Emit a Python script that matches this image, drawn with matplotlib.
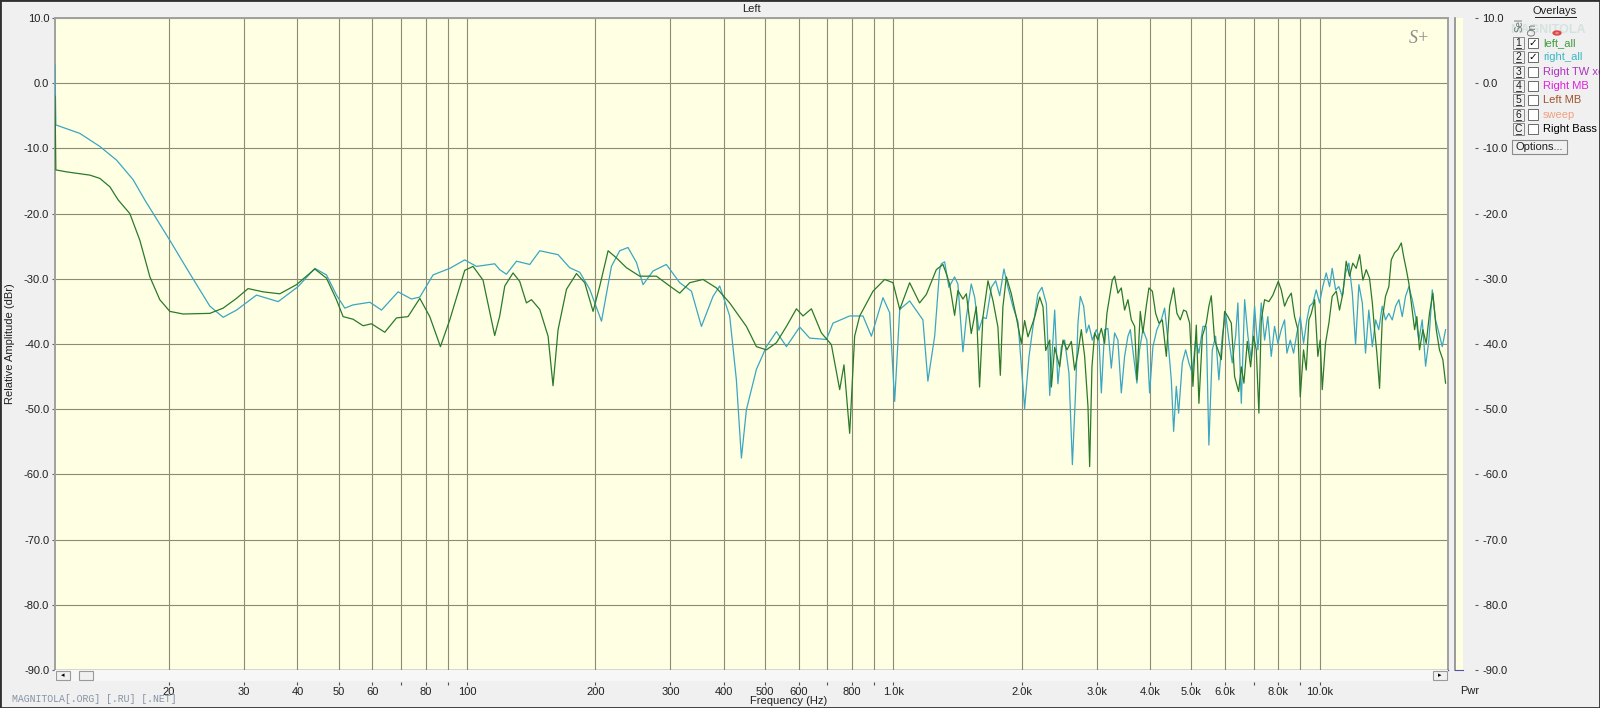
import matplotlib
matplotlib.use('Agg')
import matplotlib.pyplot as plt
from matplotlib.patches import Rectangle, Circle
from matplotlib.lines import Line2D
from matplotlib.ticker import NullLocator, NullFormatter

plt.rcParams['font.family'] = ['Liberation Sans', 'DejaVu Sans']
plt.rcParams['axes.unicode_minus'] = False

# ---------------- data ----------------
left_all_freq = [10.8, 10.85, 11.5, 13.04, 13.76, 14.53, 15.19, 16.18, 17.08, 18.03, 19.02, 20.08, 21.58,
                 24.93, 26.78, 28.79, 30.65, 33.23, 36.37, 39.8, 43.94, 46.8, 49.39, 51.19, 54.03, 57.03,
                 59.68, 64.12, 68.3, 72.7, 77.48, 81.76, 86.6, 91.08, 98.76, 103.3, 109.0, 116.1, 119.3,
                 122.6, 128.2, 132.9, 137.8, 141.6, 148.1, 154.9, 159.1, 163.5, 171.1, 180.6, 188.8, 197.5,
                 204.8, 214.2, 224.1, 236.5, 254.1, 278.1, 298.7, 315.4, 332.9, 357.7, 384.5, 413.1, 452.1,
                 477.2, 503.8, 531.7, 561.3, 592.4, 613.8, 642.3, 677.9, 715.5, 748.3, 765.8, 789.8, 811.3,
                 833.7, 895.9, 954.1, 998, 1035, 1092, 1152, 1195, 1261, 1307, 1331, 1355, 1392, 1417, 1456,
                 1483, 1523, 1565, 1593, 1622, 1667, 1712, 1759, 1782, 1807, 1841, 1891, 1943, 1996, 2032,
                 2069, 2107, 2145, 2204, 2244, 2277, 2327, 2348, 2390, 2455, 2500, 2554, 2615, 2662, 2710,
                 2760, 2810, 2861, 2887, 2923, 2966, 3019, 3075, 3130, 3169, 3216, 3263, 3304, 3363, 3425,
                 3487, 3550, 3616, 3681, 3727, 3795, 3849, 3920, 3976, 4050, 4123, 4197, 4275, 4368, 4447,
                 4544, 4626, 4710, 4795, 4866, 4954, 5043, 5136, 5209, 5306, 5420, 5497, 5569, 5669, 5771,
                 5878, 5984, 6092, 6205, 6316, 6455, 6549, 6642, 6765, 6887, 6998, 7101, 7201, 7295, 7427,
                 7601, 7767, 7910, 7996, 8126, 8273, 8422, 8578, 8732, 8890, 9004, 9166, 9301, 9433, 9559,
                 9732, 9902, 10030, 10140, 10320, 10510, 10700, 10940, 11130, 11340, 11540, 11750, 11960,
                 12180, 12410, 12630, 12860, 13090, 13290, 13450, 13620, 13820, 14020, 14270, 14530, 14720,
                 14990, 15260, 15540, 15740, 15970, 16190, 16400, 16700, 16900, 17150, 17460, 17780, 18100,
                 18430, 18770, 19100, 19450, 19740]
left_all_db = [-2.0, -13.3, -13.6, -14.1, -14.6, -15.9, -17.9, -20.0, -24.1, -29.7, -33.2, -35.0, -35.4,
               -35.3, -34.5, -33.0, -31.5, -32.0, -32.3, -30.9, -28.5, -29.9, -33.2, -35.8, -36.2, -37.2,
               -36.9, -38.2, -36.0, -35.8, -33.0, -35.8, -40.4, -36.3, -28.7, -28.1, -30.2, -38.7, -35.7,
               -31.1, -29.1, -30.4, -33.7, -33.2, -34.7, -38.8, -46.4, -37.8, -31.6, -29.2, -30.6, -35.0,
               -31.1, -25.7, -26.8, -28.3, -29.6, -29.6, -31.1, -32.2, -30.6, -30.1, -31.4, -33.7, -37.3,
               -40.4, -40.9, -39.8, -37.3, -34.6, -35.7, -34.6, -38.3, -40.1, -47.0, -43.2, -53.7, -38.8,
               -35.7, -31.9, -30.1, -30.6, -34.7, -30.6, -33.7, -32.4, -28.6, -27.8, -29.2, -30.8, -35.6, -31.8, -33.1,
               -32.3, -38.4, -34.3, -46.6, -35.9, -30.3, -33.3, -37.4, -44.8, -34.3, -29.7, -32.3, -35.9, -39.9, -36.4,
               -38.9, -37.4, -35.9, -32.8, -34.3, -41.0, -39.4, -46.6, -40.5, -43.5, -39.4, -40.9, -39.6, -44.0, -41.4,
               -37.8, -41.9, -49.6, -58.8, -43.5, -38.3, -39.4, -37.6, -39.9, -35.3, -32.7, -30.2, -29.6, -32.2, -31.4,
               -34.8, -33.2, -36.3, -37.3, -45.5, -35.0, -38.3, -34.2, -31.4, -31.9, -35.3, -36.8, -36.3, -41.9, -34.2,
               -31.4, -35.3, -36.3, -34.8, -35.0, -36.8, -46.5, -37.1, -49.1, -38.8, -36.8, -34.2, -32.6, -39.4, -40.9,
               -42.4, -35.0, -35.8, -36.8, -45.0, -47.3, -43.5, -46.0, -39.6, -43.5, -38.8, -40.9, -50.6, -36.3, -33.2,
               -33.5, -32.5, -31.2, -30.4, -31.7, -34.2, -33.0, -32.2, -35.8, -37.8, -48.1, -40.9, -44.0, -36.3, -35.3,
               -33.2, -41.9, -39.4, -47.0, -39.9, -36.8, -32.7, -31.9, -34.8, -32.2, -27.3, -29.6, -27.6,
               -28.4, -26.3, -30.2, -28.6, -29.9, -33.7, -37.8, -41.4, -46.8, -36.3, -32.7, -31.2, -27.1,
               -26.0, -25.5, -24.5, -26.6, -28.6, -30.7, -33.7, -37.8, -35.8, -40.9, -37.8, -39.9, -35.3,
               -32.2, -37.8, -40.9, -42.4, -46.0]

right_all_freq = [10.8, 10.85, 12.35, 13.76, 15.06, 16.47, 17.54, 20.08, 22.37, 24.93, 26.78, 28.79, 32.07,
                  36.05, 40.15, 43.94, 46.8, 49.39, 51.67, 54.03, 59.14, 63.0, 68.9, 74.05, 77.48, 83.24,
                  91.08, 98.76, 105.2, 116.1, 119.3, 123.7, 130.6, 140.3, 148.1, 163.5, 174.1, 183.8, 194.0,
                  206.7, 218.1, 228.1, 238.5, 249.7, 258.7, 273.1, 293.4, 315.4, 336.0, 354.6, 377.5, 391.4,
                  413.1, 428.3, 440.1, 452.1, 477.2, 503.8, 531.7, 561.3, 602.9, 636.4, 696.6, 721.8, 789.8,
                  848.6, 888.1, 945.4, 980.2, 1007, 1035, 1092, 1173, 1205, 1250, 1284, 1296, 1319, 1350, 1392,
                  1417, 1456, 1483, 1523, 1551, 1587, 1622, 1652, 1698, 1738, 1776, 1817, 1857, 1908, 1960,
                  2032, 2080, 2125, 2183, 2231, 2285, 2327, 2390, 2432, 2477, 2522, 2582, 2630, 2677, 2710,
                  2745, 2795, 2836, 2876, 2929, 2993, 3035, 3075, 3130, 3186, 3245, 3304, 3363, 3425, 3487,
                  3550, 3596, 3661, 3727, 3780, 3849, 3932, 3991, 4063, 4151, 4251, 4328, 4406, 4487, 4544,
                  4610, 4668, 4762, 4848, 4935, 5026, 5116, 5209, 5323, 5420, 5497, 5599, 5700, 5802, 5910,
                  6016, 6125, 6237, 6351, 6429, 6549, 6668, 6787, 6913, 7036, 7164, 7295, 7427, 7557, 7699,
                  7837, 7980, 8126, 8273, 8378, 8533, 8686, 8843, 9004, 9166, 9333, 9469, 9641, 9817, 9995,
                  10170, 10360, 10550, 10700, 10900, 11090, 11300, 11500, 11710, 11930, 12140, 12360, 12590,
                  12810, 13040, 13290, 13530, 13760, 14020, 14270, 14530, 14800, 15070, 15340, 15620, 15900,
                  16190, 16490, 16790, 17090, 17400, 17720, 18040, 18370, 18700, 19040, 19390, 19740]
right_all_db = [2.8, -6.4, -7.7, -9.7, -11.8, -14.8, -17.9, -24.1, -29.2, -34.2, -35.9, -34.8, -32.5,
                -33.5, -31.2, -28.4, -29.4, -32.5, -34.5, -34.0, -33.6, -34.8, -32.0, -33.1, -32.8, -29.4,
                -28.4, -27.1, -28.1, -27.7, -28.6, -29.3, -27.3, -27.8, -25.7, -26.3, -28.3, -29.0, -31.6,
                -36.5, -28.1, -25.7, -25.2, -27.5, -30.9, -28.8, -27.8, -30.6, -31.9, -37.3, -32.7, -31.1,
                -35.7, -45.5, -57.5, -50.1, -43.9, -40.4, -38.1, -40.4, -37.4, -39.1, -39.3, -36.8, -35.7,
                -35.7, -38.8, -32.9, -35.2, -48.8, -34.7, -33.4, -36.3, -45.7, -38.8, -28.6, -27.7, -27.4, -31.3, -29.7,
                -30.8, -41.2, -35.9, -30.8, -32.8, -37.9, -35.9, -36.1, -31.3, -30.3, -32.6, -28.5, -31.3, -34.3, -36.6,
                -49.9, -42.0, -37.4, -32.3, -31.3, -33.8, -47.9, -34.8, -46.1, -40.5, -39.4, -44.5, -58.5, -47.0, -36.8,
                -32.7, -34.2, -38.3, -37.1, -39.4, -37.8, -38.8, -47.5, -37.8, -37.6, -43.7, -38.3, -39.4, -47.5, -41.9,
                -38.8, -37.8, -41.9, -46.0, -40.9, -37.8, -39.4, -47.5, -40.4, -37.8, -36.3, -34.5, -39.4, -45.5, -53.4,
                -46.5, -50.6, -42.9, -40.9, -42.9, -44.5, -39.4, -41.4, -37.3, -37.3, -55.5, -40.9, -38.8, -45.5, -38.8,
                -35.3, -39.4, -42.9, -38.8, -33.7, -49.1, -33.2, -38.8, -42.4, -34.2, -40.9, -33.7, -39.4, -35.8, -41.9,
                -37.3, -39.9, -37.8, -36.3, -41.4, -39.4, -41.4, -38.3, -35.8, -39.9, -36.3, -34.2, -33.7, -31.7, -33.7,
                -31.2, -29.1, -31.2, -28.4, -31.7, -31.2, -32.7, -29.1, -27.6, -32.2, -40.1, -30.9, -33.7,
                -41.4, -34.8, -40.4, -36.3, -37.8, -34.2, -36.3, -35.3, -36.3, -34.2, -33.2, -35.8, -32.7,
                -31.2, -33.2, -35.8, -39.4, -36.3, -43.4, -39.4, -31.7, -36.3, -38.3, -40.4, -37.8]

grid_freqs = [20, 30, 40, 50, 60, 70, 80, 90, 100, 200, 300, 400, 500, 600, 700, 800, 900,
              1000, 2000, 3000, 4000, 5000, 6000, 7000, 8000, 9000, 10000]
x_tick_labels = ['20', '30', '40', '50', '60', '', '80', '', '100', '200', '300', '400', '500', '600', '',
                 '800', '', '1.0k', '2.0k', '3.0k', '4.0k', '5.0k', '6.0k', '', '8.0k', '', '10.0k']
y_ticks = [10, 0, -10, -20, -30, -40, -50, -60, -70, -80, -90]
y_tick_labels = ['10.0', '0.0', '-10.0', '-20.0', '-30.0', '-40.0', '-50.0', '-60.0', '-70.0', '-80.0', '-90.0']

overlay_keys = ['1', '2', '3', '4', '5', '6', 'C']
overlay_names = ['left_all', 'right_all', 'Right TW xe', 'Right MB', 'Left MB', 'sweep', 'Right Bass']
overlay_on = [True, True, False, False, False, False, False]
overlay_colors = ['#3f9a3f', '#38b8c8', '#b030c0', '#e020e0', '#a0522d', '#f0a080', '#000000']

# ---------------- layout helpers ----------------
W, H = 1600, 708
FMIN, FMAX = 10.8, 20000
def fx(x):
    return x / W
def fy(y):
    return 1 - y / H

BG = '#f0f0f0'
PLOT_BG = '#ffffe3'
GRID = '#8c8c74'
GREEN = '#2a7a2a'
TEAL = '#3aa6c2'

fig = plt.figure(figsize=(W / 100, H / 100), dpi=100, facecolor=BG)

L, R, T, B = 55, 1448, 18, 670
ax = fig.add_axes([fx(L), fy(B), (R - L) / W, (B - T) / H])
ax.set_facecolor(PLOT_BG)
ax.set_xscale('log')
ax.set_xlim(FMIN, FMAX)
ax.set_ylim(-90, 10)
ax.set_xticks(grid_freqs)
ax.xaxis.set_minor_locator(NullLocator())
ax.xaxis.set_minor_formatter(NullFormatter())
ax.tick_params(axis='x', length=0, labelbottom=False)
ax.set_yticks(y_ticks, labels=y_tick_labels)
ax.tick_params(axis='y', length=2.2, width=0.8, color='#606060', pad=2, labelsize=8, labelcolor='#202020')
ax.grid(True, color=GRID, lw=0.8)
ax.set_axisbelow(True)
for s in ['top', 'left', 'right']:
    ax.spines[s].set_color('#a0a0a0')
    ax.spines[s].set_linewidth(1.4)
ax.spines['bottom'].set_color('#5050a8')
ax.spines['bottom'].set_linewidth(1.0)

ax.plot(right_all_freq, right_all_db, color=TEAL, lw=0.9, zorder=3)
ax.plot(left_all_freq, left_all_db, color=GREEN, lw=0.9, zorder=4)

ax.text(0.987, 0.982, 'S+', transform=ax.transAxes, ha='right', va='top',
        family=['Liberation Serif', 'DejaVu Serif'], style='italic', fontsize=13, color='#8c8c8c')

# x tick axis below the scrollbar
axx = fig.add_axes([fx(L), fy(682), (R - L) / W, 0.0001])
axx.set_xscale('log')
axx.set_xlim(FMIN, FMAX)
axx.set_xticks(grid_freqs, labels=x_tick_labels)
axx.xaxis.set_minor_locator(NullLocator())
axx.xaxis.set_minor_formatter(NullFormatter())
axx.tick_params(axis='x', direction='out', length=2.2, width=0.8, color='#505050', pad=1.5,
                labelsize=8, labelcolor='#202020')
axx.set_yticks([])
axx.patch.set_visible(False)
for s in axx.spines.values():
    s.set_visible(False)

# scrollbar
fig.patches.append(Rectangle((fx(L), fy(681)), (R - L) / W, 11 / H, transform=fig.transFigure,
                             facecolor='#f7f7f7', edgecolor='none', zorder=1))
for (x0, x1) in [(56, 70), (79, 93), (1433, 1447)]:
    fig.patches.append(Rectangle((fx(x0), fy(680)), (x1 - x0) / W, 9 / H, transform=fig.transFigure,
                                 facecolor='#f0f0f0', edgecolor='#9a9a9a', lw=0.8, zorder=2))
fig.text(fx(63), fy(675.5), '◂', ha='center', va='center', fontsize=5, family='DejaVu Sans', color='#000000')
fig.text(fx(1440), fy(675.5), '▸', ha='center', va='center', fontsize=5, family='DejaVu Sans', color='#000000')

# Pwr panel
axp = fig.add_axes([fx(1455), fy(B), 8 / W, (B - T) / H])
axp.set_facecolor(PLOT_BG)
axp.set_ylim(-90, 10)
axp.set_xticks([])
axp.set_yticks([])
for s in ['top', 'right']:
    axp.spines[s].set_visible(False)
axp.spines['left'].set_color('#8a8a8a')
axp.spines['left'].set_linewidth(1.2)
axp.spines['bottom'].set_color('#5050a8')

# right tick labels
axr = fig.add_axes([fx(1468), fy(B), 7 / W, (B - T) / H])
axr.set_ylim(-90, 10)
axr.set_xticks([])
axr.yaxis.tick_right()
axr.set_yticks(y_ticks, labels=y_tick_labels)
axr.tick_params(axis='y', length=2.2, width=0.8, color='#606060', pad=3, labelsize=8, labelcolor='#202020')
axr.patch.set_visible(False)
for s in axr.spines.values():
    s.set_visible(False)

# texts
fig.text(fx((L + R) / 2), fy(9), 'Left', ha='center', va='center', fontsize=8, color='#202020')
fig.text(fx(789), fy(701), 'Frequency (Hz)', ha='center', va='center', fontsize=8, color='#202020')
fig.text(fx(10), fy(344), 'Relative Amplitude (dBr)', rotation=90, ha='center', va='center',
         fontsize=8, color='#202020')
fig.text(fx(1470), fy(691), 'Pwr', ha='center', va='center', fontsize=8, color='#202020')
fig.text(fx(12), fy(699), 'MAGNITOLA[.ORG] [.RU] [.NET]', ha='left', va='center',
         family=['Liberation Mono', 'DejaVu Sans Mono'], fontsize=7.1, color='#8494a4')

# overlays panel
fig.text(fx(1555), fy(11), 'Overlays', ha='center', va='center', fontsize=8, color='#202020')
fig.lines.append(Line2D([fx(1535), fx(1576)], [fy(17), fy(17)], transform=fig.transFigure,
                        color='#202020', lw=0.7))
fig.text(fx(1520), fy(25), 'Sel', rotation=90, ha='center', va='center', fontsize=7, color='#707070')
fig.text(fx(1533), fy(30), 'On', rotation=90, ha='center', va='center', fontsize=7, color='#707070')
fig.text(fx(1548), fy(30), 'MAGNITOLA', ha='center', va='center', fontsize=9, color='#70b8a8', alpha=0.22,
         fontweight='bold')
fig.patches.append(Circle((fx(1557), fy(33)), 3.5 / W, transform=fig.transFigure, fill=False,
                          edgecolor='#e04848', lw=1.6, zorder=5))

for i, (key, name, on, col) in enumerate(zip(overlay_keys, overlay_names, overlay_on, overlay_colors)):
    yc = 43 + i * 14.3
    fig.patches.append(Rectangle((fx(1513), fy(yc + 6)), 11 / W, 12 / H, transform=fig.transFigure,
                                 facecolor='#f0f0f0', edgecolor='#8a8a8a', lw=0.7))
    fig.text(fx(1518.5), fy(yc), key, ha='center', va='center', fontsize=7.5, color='#202020')
    fig.lines.append(Line2D([fx(1516), fx(1521)], [fy(yc + 5), fy(yc + 5)], transform=fig.transFigure,
                            color='#202020', lw=0.6))
    fig.patches.append(Rectangle((fx(1528), fy(yc + 5)), 10 / W, 10 / H, transform=fig.transFigure,
                                 facecolor='#ffffff', edgecolor='#6a6a6a', lw=0.7))
    if on:
        fig.text(fx(1533), fy(yc), '✓', ha='center', va='center', fontsize=7.5, family='DejaVu Sans',
                 fontweight='bold', color='#000000')
    fig.text(fx(1543), fy(yc), name, ha='left', va='center', fontsize=8, color=col)

fig.patches.append(Rectangle((fx(1512), fy(154)), 55 / W, 14 / H, transform=fig.transFigure,
                             facecolor='#f0f0f0', edgecolor='#8a8a8a', lw=0.8))
fig.text(fx(1539.5), fy(147), 'Options...', ha='center', va='center', fontsize=8, color='#202020')

# outer border
fig.patches.append(Rectangle((0, 0), 1, 1, transform=fig.transFigure, fill=False,
                             edgecolor='#303030', lw=2.0, zorder=10))

fig.savefig('out.png', dpi=100, facecolor=BG)
